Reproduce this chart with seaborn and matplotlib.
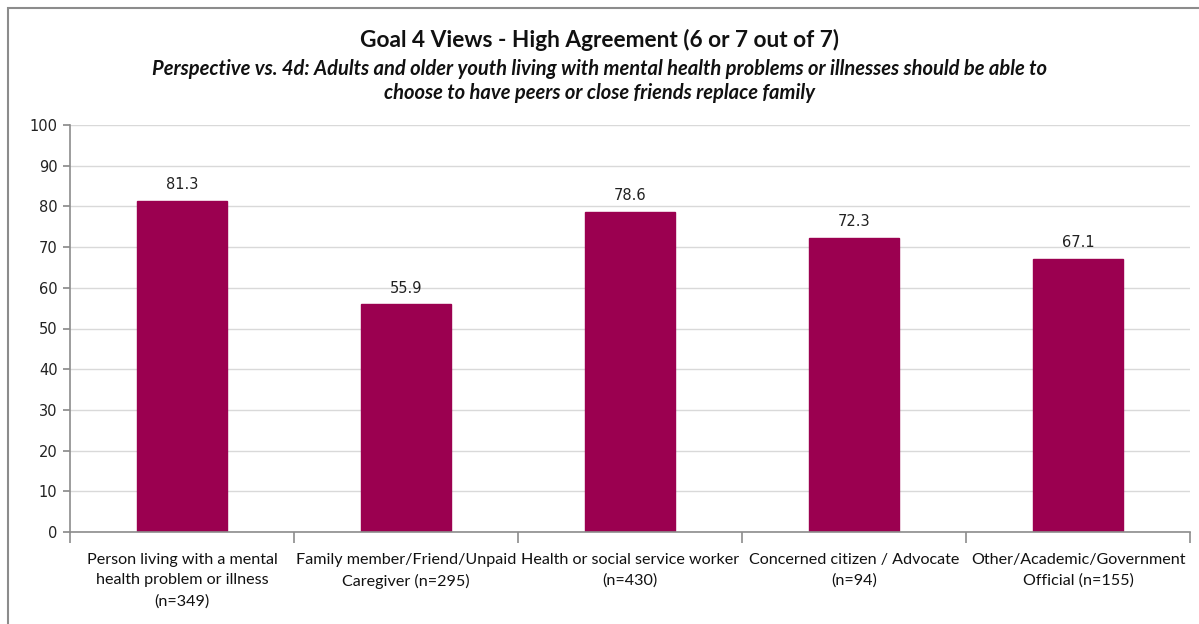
import matplotlib
matplotlib.use("Agg")
import matplotlib.pyplot as plt
import seaborn as sns
import pandas as pd
import numpy as np
from matplotlib.patches import Rectangle

categories = [
    "Person living with a mental\nhealth problem or illness\n(n=349)",
    "Family member/Friend/Unpaid\nCaregiver (n=295)",
    "Health or social service worker\n(n=430)",
    "Concerned citizen / Advocate\n(n=94)",
    "Other/Academic/Government\nOfficial (n=155)",
]
values = [81.3, 55.9, 78.6, 72.3, 67.1]
yticks = list(range(0, 101, 10))

title = "Goal 4 Views - High Agreement (6 or 7 out of 7)"
subtitle = ("Perspective vs. 4d: Adults and older youth living with mental health problems or illnesses should be able to\n"
            "choose to have peers or close friends replace family")

sns.set_theme(style="white")
plt.rcParams['font.family'] = ['DejaVu Sans']

df = pd.DataFrame({"cat": categories, "val": values})

fig = plt.figure(figsize=(11.99, 6.24), dpi=100)
fig.patch.set_facecolor("white")
fig.patches.append(Rectangle((8/1199, -0.1), 1.2, 1 - 8/624 + 0.1, transform=fig.transFigure,
                             fill=False, edgecolor="#8c8c8c", linewidth=1.5))

ax = fig.add_axes([70/1199, 1 - 532/624, (1190 - 70)/1199, (532 - 125)/624])
sns.barplot(data=df, x="cat", y="val", color="#9B0050", width=0.4, ax=ax,
            saturation=1, edgecolor="#9B0050")

ax.set_xlim(-0.5, len(categories) - 0.5)
ax.set_ylim(0, 100)
ax.set_yticks(yticks)
ax.set_yticklabels([str(t) for t in yticks], fontsize=10.5, color="#222222")
ax.yaxis.grid(True, color="#d9d9d9", linewidth=1)
ax.set_axisbelow(True)
ax.set_xlabel("")
ax.set_ylabel("")

for s in ["top", "right"]:
    ax.spines[s].set_visible(False)
ax.spines["left"].set_color("#8c8c8c")
ax.spines["bottom"].set_color("#8c8c8c")
ax.spines["left"].set_linewidth(1.2)
ax.spines["bottom"].set_linewidth(1.2)

ax.tick_params(axis="y", which="major", left=True, length=5, color="#8c8c8c", pad=4)
ax.set_xticks(range(len(categories)))
ax.set_xticklabels(categories, fontsize=11.6, family=["Lato", "DejaVu Sans"], color="#111111",
                   linespacing=1.6)
ax.tick_params(axis="x", which="major", bottom=False, pad=9)
ax.set_xticks(np.arange(-0.5, len(categories), 1.0), minor=True)
ax.tick_params(axis="x", which="minor", bottom=True, length=8, color="#8c8c8c", width=1.2)

for i, v in enumerate(values):
    ax.text(i, v + 2.2, f"{v:.1f}", ha="center", va="bottom", fontsize=10.5, color="#222222")

fig.text(0.5, 1 - 40/624, title, ha="center", va="center", fontsize=16.3, fontweight="bold",
         family=["Lato", "DejaVu Sans"], color="#111111")
fig.text(0.5, 1 - 81/624, subtitle, ha="center", va="center", fontsize=14.5, fontweight="bold",
         fontstyle="italic", family=["Lato", "DejaVu Sans"], color="#111111", linespacing=1.25)

fig.savefig("out.png", dpi=100)
